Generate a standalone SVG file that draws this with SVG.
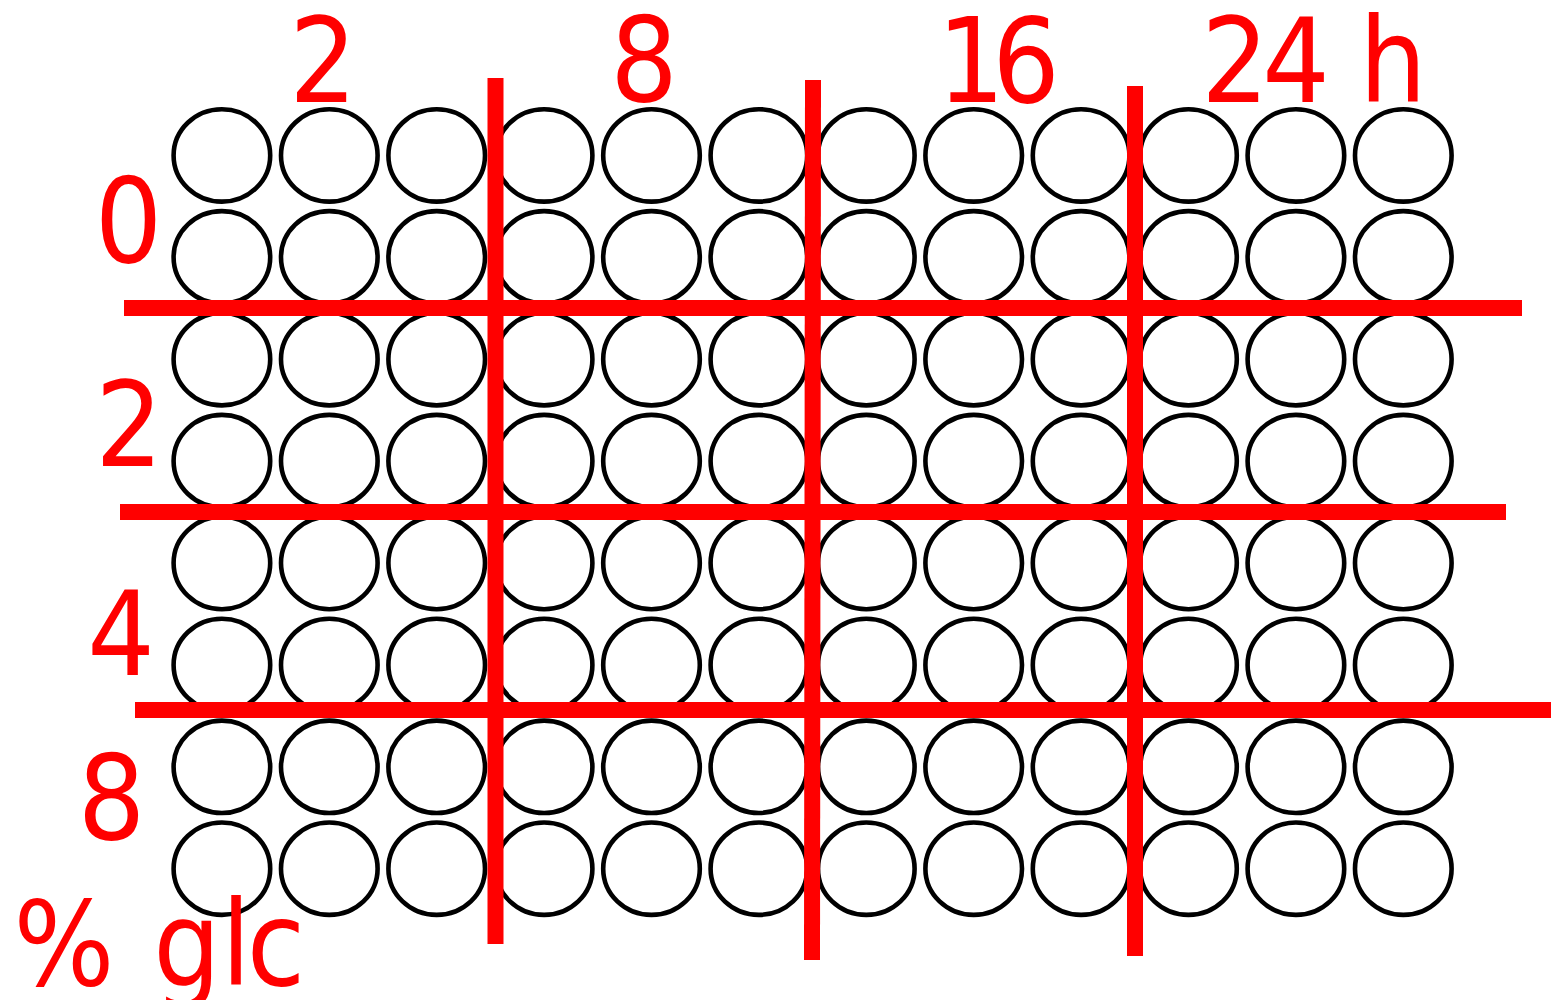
<svg xmlns="http://www.w3.org/2000/svg" xmlns:xlink="http://www.w3.org/1999/xlink" width="1551" height="1000" viewBox="0 0 1551 1000">
<style>
.w{fill:none;stroke:#000;stroke-width:4.6}
.r{stroke:#ff0000;stroke-width:16;stroke-linecap:butt;fill:none}
.t{fill:#ff0000;font-family:"DejaVu Sans Condensed","DejaVu Sans",sans-serif;font-size:118px;text-anchor:middle}
</style>
<defs>
<ellipse id="well" class="w" cx="0" cy="0" rx="48.3" ry="46.2"/>
</defs>
<rect width="1551" height="1000" fill="#fff"/>
<g id="wells">
<g id="rowA">
<use xlink:href="#well" x="221.9" y="155.4"/><use xlink:href="#well" x="329.3" y="155.4"/><use xlink:href="#well" x="436.7" y="155.4"/><use xlink:href="#well" x="544.1" y="155.4"/><use xlink:href="#well" x="651.5" y="155.4"/><use xlink:href="#well" x="758.9" y="155.4"/><use xlink:href="#well" x="866.3" y="155.4"/><use xlink:href="#well" x="973.7" y="155.4"/><use xlink:href="#well" x="1081.1" y="155.4"/><use xlink:href="#well" x="1188.5" y="155.4"/><use xlink:href="#well" x="1295.9" y="155.4"/><use xlink:href="#well" x="1403.3" y="155.4"/>
</g>
<g id="rowB">
<use xlink:href="#well" x="221.9" y="257.3"/><use xlink:href="#well" x="329.3" y="257.3"/><use xlink:href="#well" x="436.7" y="257.3"/><use xlink:href="#well" x="544.1" y="257.3"/><use xlink:href="#well" x="651.5" y="257.3"/><use xlink:href="#well" x="758.9" y="257.3"/><use xlink:href="#well" x="866.3" y="257.3"/><use xlink:href="#well" x="973.7" y="257.3"/><use xlink:href="#well" x="1081.1" y="257.3"/><use xlink:href="#well" x="1188.5" y="257.3"/><use xlink:href="#well" x="1295.9" y="257.3"/><use xlink:href="#well" x="1403.3" y="257.3"/>
</g>
<g id="rowC">
<use xlink:href="#well" x="221.9" y="359.2"/><use xlink:href="#well" x="329.3" y="359.2"/><use xlink:href="#well" x="436.7" y="359.2"/><use xlink:href="#well" x="544.1" y="359.2"/><use xlink:href="#well" x="651.5" y="359.2"/><use xlink:href="#well" x="758.9" y="359.2"/><use xlink:href="#well" x="866.3" y="359.2"/><use xlink:href="#well" x="973.7" y="359.2"/><use xlink:href="#well" x="1081.1" y="359.2"/><use xlink:href="#well" x="1188.5" y="359.2"/><use xlink:href="#well" x="1295.9" y="359.2"/><use xlink:href="#well" x="1403.3" y="359.2"/>
</g>
<g id="rowD">
<use xlink:href="#well" x="221.9" y="461.1"/><use xlink:href="#well" x="329.3" y="461.1"/><use xlink:href="#well" x="436.7" y="461.1"/><use xlink:href="#well" x="544.1" y="461.1"/><use xlink:href="#well" x="651.5" y="461.1"/><use xlink:href="#well" x="758.9" y="461.1"/><use xlink:href="#well" x="866.3" y="461.1"/><use xlink:href="#well" x="973.7" y="461.1"/><use xlink:href="#well" x="1081.1" y="461.1"/><use xlink:href="#well" x="1188.5" y="461.1"/><use xlink:href="#well" x="1295.9" y="461.1"/><use xlink:href="#well" x="1403.3" y="461.1"/>
</g>
<g id="rowE">
<use xlink:href="#well" x="221.9" y="563"/><use xlink:href="#well" x="329.3" y="563"/><use xlink:href="#well" x="436.7" y="563"/><use xlink:href="#well" x="544.1" y="563"/><use xlink:href="#well" x="651.5" y="563"/><use xlink:href="#well" x="758.9" y="563"/><use xlink:href="#well" x="866.3" y="563"/><use xlink:href="#well" x="973.7" y="563"/><use xlink:href="#well" x="1081.1" y="563"/><use xlink:href="#well" x="1188.5" y="563"/><use xlink:href="#well" x="1295.9" y="563"/><use xlink:href="#well" x="1403.3" y="563"/>
</g>
<g id="rowF">
<use xlink:href="#well" x="221.9" y="664.9"/><use xlink:href="#well" x="329.3" y="664.9"/><use xlink:href="#well" x="436.7" y="664.9"/><use xlink:href="#well" x="544.1" y="664.9"/><use xlink:href="#well" x="651.5" y="664.9"/><use xlink:href="#well" x="758.9" y="664.9"/><use xlink:href="#well" x="866.3" y="664.9"/><use xlink:href="#well" x="973.7" y="664.9"/><use xlink:href="#well" x="1081.1" y="664.9"/><use xlink:href="#well" x="1188.5" y="664.9"/><use xlink:href="#well" x="1295.9" y="664.9"/><use xlink:href="#well" x="1403.3" y="664.9"/>
</g>
<g id="rowG">
<use xlink:href="#well" x="221.9" y="766.8"/><use xlink:href="#well" x="329.3" y="766.8"/><use xlink:href="#well" x="436.7" y="766.8"/><use xlink:href="#well" x="544.1" y="766.8"/><use xlink:href="#well" x="651.5" y="766.8"/><use xlink:href="#well" x="758.9" y="766.8"/><use xlink:href="#well" x="866.3" y="766.8"/><use xlink:href="#well" x="973.7" y="766.8"/><use xlink:href="#well" x="1081.1" y="766.8"/><use xlink:href="#well" x="1188.5" y="766.8"/><use xlink:href="#well" x="1295.9" y="766.8"/><use xlink:href="#well" x="1403.3" y="766.8"/>
</g>
<g id="rowH">
<use xlink:href="#well" x="221.9" y="868.7"/><use xlink:href="#well" x="329.3" y="868.7"/><use xlink:href="#well" x="436.7" y="868.7"/><use xlink:href="#well" x="544.1" y="868.7"/><use xlink:href="#well" x="651.5" y="868.7"/><use xlink:href="#well" x="758.9" y="868.7"/><use xlink:href="#well" x="866.3" y="868.7"/><use xlink:href="#well" x="973.7" y="868.7"/><use xlink:href="#well" x="1081.1" y="868.7"/><use xlink:href="#well" x="1188.5" y="868.7"/><use xlink:href="#well" x="1295.9" y="868.7"/><use xlink:href="#well" x="1403.3" y="868.7"/>
</g>
</g>
<g id="dividers">
<line class="r" x1="495.5" y1="78" x2="495.5" y2="944"/>
<line class="r" x1="813" y1="80" x2="812" y2="960"/>
<line class="r" x1="1135" y1="86" x2="1135" y2="956"/>
<line class="r" x1="124" y1="308" x2="1522" y2="308"/>
<line class="r" x1="120" y1="512" x2="1506" y2="512"/>
<line class="r" x1="135" y1="710" x2="1551" y2="710"/>
</g>
<g id="time-labels">
<text class="t" x="323" y="102">2</text>
<text class="t" x="644" y="101">8</text>
<text class="t" x="971 1026" y="102">16</text>
<text class="t" x="1235 1296 1340 1393" y="102">24 h</text>
</g>
<g id="glc-labels">
<text class="t" x="128.5" y="262">0</text>
<text class="t" x="129" y="466">2</text>
<text class="t" x="121" y="675">4</text>
<text class="t" x="111.5" y="839">8</text>
<text class="t" x="64 140 187 236 276" y="985">% glc</text>
</g>
</svg>
